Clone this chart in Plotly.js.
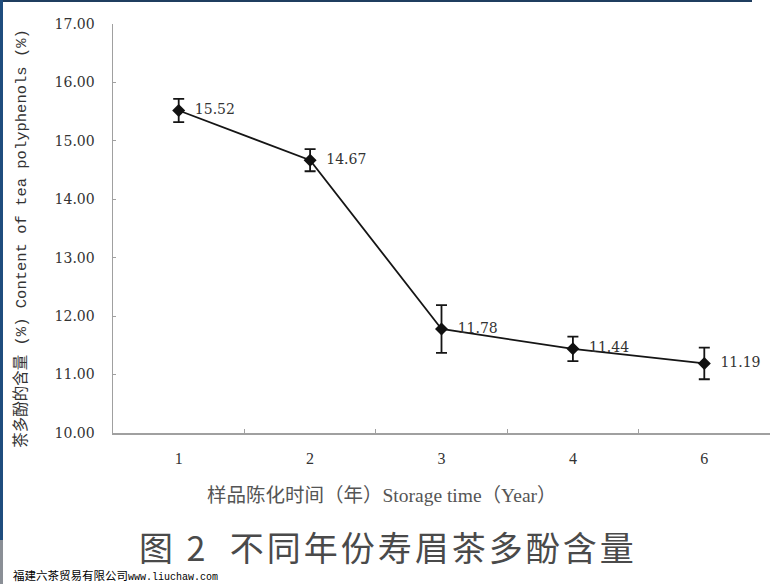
<!DOCTYPE html>
<html>
<head>
<meta charset="utf-8">
<script src="https://cdn.plot.ly/plotly-3.0.1.min.js"></script>
<style>
  html, body { margin: 0; padding: 0; background: #ffffff; }
  #wrap { position: relative; width: 780px; height: 584px; overflow: hidden; }
  #chart { position: absolute; left: 0; top: 0; width: 780px; height: 584px; }
  .edge { position: absolute; pointer-events: none; }
</style>
</head>
<body>
<div id="wrap">
  <div id="chart"></div>
  <div class="edge" style="left:0;top:0;width:752px;height:2px;background:#1f3d5f;"></div>
  <div class="edge" style="left:0;top:0;width:3px;height:540px;background:#1f4d7e;"></div>
  <div class="edge" style="left:0;top:540px;width:3px;height:44px;background:#8a8f96;"></div>
</div>
<script>
// ---- data ----
const categories = ["1", "2", "3", "4", "6"];
const values = [15.52, 14.67, 11.78, 11.44, 11.19];
const errors = [0.20, 0.19, 0.41, 0.21, 0.27];
const valueLabels = ["15.52", "14.67", "11.78", "11.44", "11.19"];
const yTickVals = [10, 11, 12, 13, 14, 15, 16, 17];
const yTickText = ["10.00", "11.00", "12.00", "13.00", "14.00", "15.00", "16.00", "17.00"];
const yTitle = "茶多酚的含量 (%) Content of tea polyphenols (%)";
const xTitle = "样品陈化时间（年）Storage time（Year）";
const caption = "图\u00a02\u00a0\u00a0不同年份寿眉茶多酚含量";
const watermarkCn = "福建六茶贸易有限公司";
const watermarkUrl = "www.liuchaw.com";

const numFont = "DejaVu Serif, Liberation Serif, serif";

const trace = {
  x: categories,
  y: values,
  type: "scatter",
  mode: "lines+markers+text",
  text: valueLabels,
  texttemplate: "  %{text}",
  textposition: "middle right",
  textfont: { family: numFont, size: 14, color: "#333333" },
  line: { color: "#151515", width: 1.8 },
  marker: { symbol: "diamond", size: 10, color: "#111111" },
  error_y: { type: "data", array: errors, visible: true, color: "#151515", thickness: 1.8, width: 5.5 },
  hoverinfo: "skip",
  cliponaxis: false
};

const layout = {
  width: 780,
  height: 584,
  margin: { l: 113, r: 10, t: 24, b: 151 },
  paper_bgcolor: "#ffffff",
  plot_bgcolor: "#ffffff",
  showlegend: false,
  font: { family: numFont, color: "#333333" },
  xaxis: {
    type: "category",
    categoryorder: "array",
    categoryarray: categories,
    range: [-0.5, 4.5],
    showline: true,
    linecolor: "#a0a0a0",
    linewidth: 1.5,
    ticks: "inside",
    tickson: "boundaries",
    ticklen: 4,
    tickcolor: "#a0a0a0",
    tickwidth: 1,
    showgrid: false,
    zeroline: false,
    ticklabelstandoff: 10,
    tickfont: { family: "Liberation Serif, serif", size: 16, color: "#333333" },
    fixedrange: true
  },
  yaxis: {
    range: [10, 17],
    tickmode: "array",
    tickvals: yTickVals,
    ticktext: yTickText,
    showline: true,
    linecolor: "#a0a0a0",
    linewidth: 1.5,
    ticks: "inside",
    ticklen: 3,
    tickcolor: "#a0a0a0",
    showgrid: false,
    zeroline: false,
    ticklabelstandoff: 14,
    tickfont: { family: numFont, size: 14, color: "#333333" },
    fixedrange: true
  },
  annotations: [
    {
      text: yTitle,
      xref: "paper", yref: "paper",
      x: -0.1385, y: 0.475,
      xanchor: "center", yanchor: "middle",
      textangle: -90,
      showarrow: false,
      font: { family: "Liberation Mono, Noto Sans CJK SC, monospace", size: 15.5, color: "#333333" }
    },
    {
      text: xTitle,
      xref: "paper", yref: "paper",
      x: 0.41, y: -0.1516,
      xanchor: "center", yanchor: "middle",
      showarrow: false,
      font: { family: "Liberation Serif, Noto Sans CJK SC, serif", size: 19.5, color: "#555555" }
    },
    {
      text: '<span style="letter-spacing:3px">' + caption + '</span>',
      xref: "paper", yref: "paper",
      x: 0.419, y: -0.278,
      xanchor: "center", yanchor: "middle",
      showarrow: false,
      font: { family: "Noto Sans CJK SC, sans-serif", size: 34, color: "#4a4a4a" }
    },
    {
      text: watermarkCn + '<span style="font-family:Liberation Mono, monospace;font-size:10px">' + watermarkUrl + '</span>',
      xref: "paper", yref: "paper",
      x: -0.1537, y: -0.348,
      xanchor: "left", yanchor: "middle",
      showarrow: false,
      bgcolor: "#ffffff",
      borderpad: 0,
      font: { family: "Noto Sans CJK SC, sans-serif", size: 11.5, color: "#000000" }
    }
  ]
};

Plotly.newPlot("chart", [trace], layout, { staticPlot: true, displayModeBar: false });
</script>
</body>
</html>
